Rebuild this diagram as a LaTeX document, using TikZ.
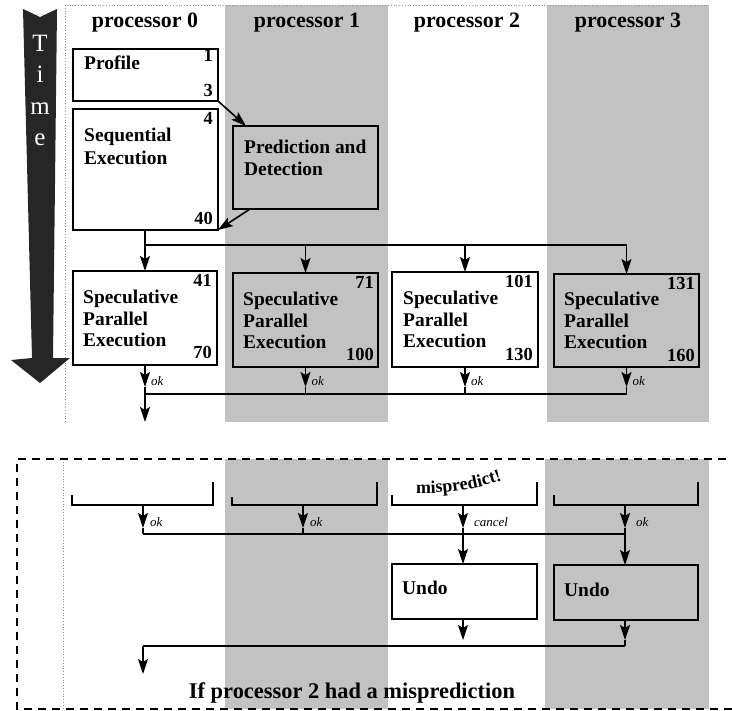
\documentclass[tikz,border=0pt]{standalone}
\usepackage{fontspec}
\setmainfont{Liberation Serif}
\usetikzlibrary{arrows.meta,decorations.text,calc}
\definecolor{colgray}{RGB}{194,194,194}
\definecolor{timegray}{RGB}{38,38,38}
\begin{document}
\begin{tikzpicture}[x=1bp,y=-1bp,
  box/.style={draw=black, line width=2bp, anchor=north west, inner sep=0pt, outer sep=0pt},
  lbl/.style={font=\fontsize{19.5}{22}\selectfont\bfseries, inner sep=0pt, anchor=base west},
  num/.style={font=\fontsize{18.5}{20}\selectfont\bfseries, inner sep=0pt, anchor=base east},
  hdr/.style={font=\fontsize{22}{24}\selectfont\bfseries, inner sep=0pt, anchor=base},
  oklbl/.style={font=\fontsize{13}{14}\selectfont\itshape, inner sep=0pt, anchor=base west},
  tlet/.style={font=\fontsize{25}{25}\selectfont, text=white, inner sep=0pt, anchor=base},
  conn/.style={line width=1.6bp},
  arr/.style={conn, -{Stealth[length=15bp,width=10bp,inset=3bp]}},
  brk/.style={line width=2bp},
  dots/.style={draw=black!45, line width=0.8bp, dotted},
]
\useasboundingbox (0,0) rectangle (732,711);
% ---------- column backgrounds
\fill[colgray] (225,5) rectangle (388,422);
\fill[colgray] (547,5) rectangle (709,422);
\draw[dots] (65,422) -- (65,5) -- (709,5);
\fill[colgray] (225,459) rectangle (388,709);
\fill[colgray] (545,459) rectangle (709,709);
\draw[dots] (63,459) -- (63,709);
\draw[line width=1.8bp, dash pattern=on 8bp off 6bp] (740,459) -- (17,459) -- (17,709) -- (740,709);
% ---------- time arrow
\fill[timegray] (23,9) -- (40,17) -- (57,9) -- (53,358) -- (70,358) -- (40,383) -- (11,360) -- (32,358) -- cycle;
\node[tlet] (tT) at (40,52) {T};
\node[tlet] (ti) at (40,83) {i};
\node[tlet] (tm) at (40,115) {m};
\node[tlet] (te) at (40,146) {e};
% ---------- headers
\node[hdr] (h0) at (145,28) {processor 0};
\node[hdr] (h1) at (307,28) {processor 1};
\node[hdr] (h2) at (467,28) {processor 2};
\node[hdr] (h3) at (628,28) {processor 3};
% ---------- top boxes
\node[box, fill=white, minimum width=145bp, minimum height=52bp] (prof) at (73,49) {};
\node[lbl] (tprof) at (84,70) {Profile};
\node[num] (n1) at (213,62) {1};
\node[num] (n3) at (213,97) {3};
\node[box, fill=white, minimum width=145bp, minimum height=121bp] (seq) at (73,109) {};
\node[lbl] (tseq1) at (84,142) {Sequential};
\node[lbl] (tseq2) at (84,164) {Execution};
\node[num] (n4) at (213,125) {4};
\node[num] (n40) at (213,224) {40};
\node[box, fill=colgray, minimum width=145bp, minimum height=83bp] (pred) at (233,126) {};
\node[lbl] (tpred1) at (244,153) {Prediction and};
\node[lbl] (tpred2) at (244,175) {Detection};
\draw[arr] (prof.south east) -- ($(pred.north west)+(13,0)$);
\draw[arr] ($(pred.south west)+(17,0)$) -- (seq.south east);
% ---------- speculative boxes
\node[box, fill=white, minimum width=144bp, minimum height=94bp] (s0) at (73,271) {};
\node[box, fill=colgray, minimum width=145bp, minimum height=94bp] (s1) at (233,273) {};
\node[box, fill=white, minimum width=146bp, minimum height=95bp] (s2) at (392,272) {};
\node[box, fill=colgray, minimum width=145bp, minimum height=93bp] (s3) at (554,274) {};
\node[lbl] (a0) at (83,303) {Speculative};
\node[lbl] (b0) at (83,325) {Parallel};
\node[lbl] (c0t) at (83,346) {Execution};
\node[lbl] (a1) at (243,305) {Speculative};
\node[lbl] (b1) at (243,327) {Parallel};
\node[lbl] (c1t) at (243,348) {Execution};
\node[lbl] (a2) at (403,304) {Speculative};
\node[lbl] (b2) at (403,326) {Parallel};
\node[lbl] (c2t) at (403,347) {Execution};
\node[lbl] (a3) at (564,305) {Speculative};
\node[lbl] (b3) at (564,327) {Parallel};
\node[lbl] (c3t) at (564,348) {Execution};
\node[num] (n41) at (212,286) {41};
\node[num] (n70) at (212,358) {70};
\node[num] (n71) at (374,288) {71};
\node[num] (n100) at (374,360) {100};
\node[num] (n101) at (533,287) {101};
\node[num] (n130) at (533,360) {130};
\node[num] (n131) at (695,289) {131};
\node[num] (n160) at (695,361) {160};
% fan-out bus
\coordinate (yb1) at (0,245);
\draw[conn] (s0.north |- seq.south) -- (s0.north |- yb1) -- (s3.north |- yb1);
\draw[arr] (s0.north |- seq.south) -- (s0.north);
\draw[arr] (s1.north |- yb1) -- (s1.north);
\draw[arr] (s2.north |- yb1) -- (s2.north);
\draw[arr] (s3.north |- yb1) -- (s3.north);
% ok arrows
\coordinate (yok) at (0,387);
\coordinate (yb2) at (0,394);
\coordinate (yend) at (0,422);
\coordinate (yokl) at (0,385);
\foreach \i in {0,1,2,3}{
  \draw[arr] (s\i.south) -- (s\i.south |- yok);
  \draw[conn] (s\i.south |- yok) -- (s\i.south |- yb2);
  \node[oklbl] (ok\i) at ($(s\i.south |- yokl)+(6,0)$) {ok};
}
\draw[conn] (s0.south |- yb2) -- (s3.south |- yb2);
\draw[arr] (s0.south |- yb2) -- (s0.south |- yend);
% ---------- misprediction scenario
\draw[brk] (72,495) -- (72,505) -- (213,505) -- (213,482);
\draw[brk] (232,497) -- (232,505) -- (377,505) -- (377,482);
\draw[brk] (392,495) -- (392,505) -- (537,505) -- (537,482);
\draw[brk] (554,495) -- (554,505) -- (698,505) -- (698,482);
\path[decorate, decoration={text along path, text={|\fontsize{18}{18}\selectfont\bfseries|mispredict!}}]
  (416,493) .. controls (452,494) and (487,488) .. (524,472);
\coordinate (c0) at (143,505);
\coordinate (c1) at (303,505);
\coordinate (c2) at (463,505);
\coordinate (c3) at (625,505);
\coordinate (yok2) at (0,528);
\coordinate (yb3) at (0,534);
\coordinate (ytip) at (0,640);
\coordinate (yb4) at (0,646);
\coordinate (yend2) at (0,674);
\foreach \i in {0,1,2,3}{
  \draw[arr] (c\i) -- (c\i |- yok2);
  \draw[conn] (c\i |- yok2) -- (c\i |- yb3);
}
\node[oklbl] (okb0) at (150,526) {ok};
\node[oklbl] (okb1) at (310,526) {ok};
\node[oklbl] (cancel) at (474,526) {cancel};
\node[oklbl] (okb3) at (636,526) {ok};
\draw[conn] (c0 |- yb3) -- (c3 |- yb3);
\node[box, fill=white, minimum width=145bp, minimum height=55bp] (u2) at (392,564) {};
\node[box, fill=colgray, minimum width=144bp, minimum height=55bp] (u3) at (554,565) {};
\node[lbl] (tu2) at (402,594) {Undo};
\node[lbl] (tu3) at (564,596) {Undo};
\draw[arr] (c2 |- yb3) -- (c2 |- u2.north);
\draw[arr] (c3 |- yb3) -- (c3 |- u3.north);
\draw[arr] (c2 |- u2.south) -- (c2 |- ytip);
\draw[arr] (c3 |- u3.south) -- (c3 |- ytip);
\draw[conn] (c3 |- ytip) -- (c3 |- yb4);
\draw[conn] (c0 |- yb4) -- (c3 |- yb4);
\draw[arr] (c0 |- yb4) -- (c0 |- yend2);
\node[font=\fontsize{22.5}{24}\selectfont\bfseries, inner sep=0pt, anchor=base] (title) at (352,698) {If processor 2 had a misprediction};
\end{tikzpicture}
\end{document}
